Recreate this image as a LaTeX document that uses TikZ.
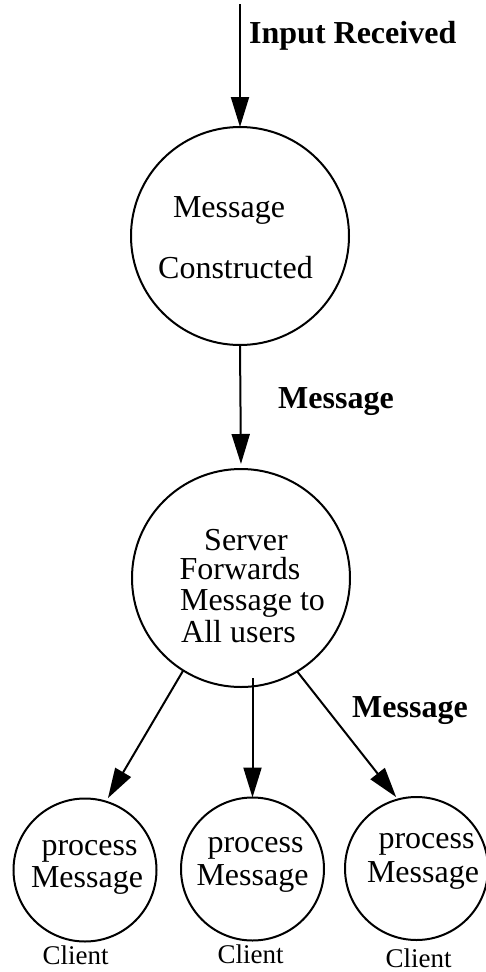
\documentclass[tikz,border=0pt]{standalone}
\usepackage{fontspec}
\setmainfont{Liberation Serif}
\usetikzlibrary{arrows.meta}
\begin{document}
\begin{tikzpicture}[x=1pt,y=-1pt,
  state/.style={draw, circle, line width=2pt, inner sep=0pt, outer sep=0pt},
  big/.style={state, minimum size=218pt},
  small/.style={state, minimum size=143pt},
  flow/.style={-{Triangle[length=30pt,width=18pt]}, line width=2pt},
  txt/.style={anchor=base, inner sep=0pt, font=\fontsize{32}{32}\selectfont},
  lbl/.style={anchor=base west, inner sep=0pt, font=\fontsize{32}{32}\selectfont\bfseries},
  clientcap/.style={anchor=base, inner sep=0pt, font=\fontsize{27}{27}\selectfont}]
\useasboundingbox (0,0) rectangle (486,972);

% states
\node[big] (c1) at (240,236) {};
\node[big] (c2) at (241,578) {};
\node[small] (k1) at (85,870) {};
\node[small] (k2) at (252.5,869) {};
\node[small] (k3) at (416.5,868.5) {};

% texts inside the states
\node[txt] (t1a) at (229,217) {Message};
\node[txt] (t1b) at (235.5,278) {Constructed};
\node[txt] (t2a) at (246,550) {Server};
\node[txt] (t2b) at (240,579) {Forwards};
\node[txt] (t2c) at (252.5,610) {Message to};
\node[txt] (t2d) at (238.5,642) {All users};
\node[txt] (p1a) at (89.5,855) {process};
\node[txt] (p1b) at (87,887) {Message};
\node[txt] (p2a) at (255.5,852) {process};
\node[txt] (p2b) at (252.5,885) {Message};
\node[txt] (p3a) at (426.5,848) {process};
\node[txt] (p3b) at (423,882) {Message};

% client captions
\node[clientcap] (cl1) at (75.5,964) {Client};
\node[clientcap] (cl2) at (250.5,963) {Client};
\node[clientcap] (cl3) at (418.5,967) {Client};

% flow labels
\node[lbl] (l1) at (249,43) {Input Received};
\node[lbl] (l2) at (278,408) {Message};
\node[lbl] (l3) at (352,717) {Message};

% connectors
\coordinate (in) at (240,4);
\draw[flow] (in) -- (c1.north);
\draw[flow, shorten >=5pt] (c1.south) -- (c2.north);
\draw[flow, shorten >=4pt] (c2.238) -- (k1.73);
\draw[flow, shorten <=-9pt] (c2.south -| k2.north) -- (k2.north);
\draw[flow, shorten >=3pt] (c2.-59) -- (k3.105);
\end{tikzpicture}
\end{document}
